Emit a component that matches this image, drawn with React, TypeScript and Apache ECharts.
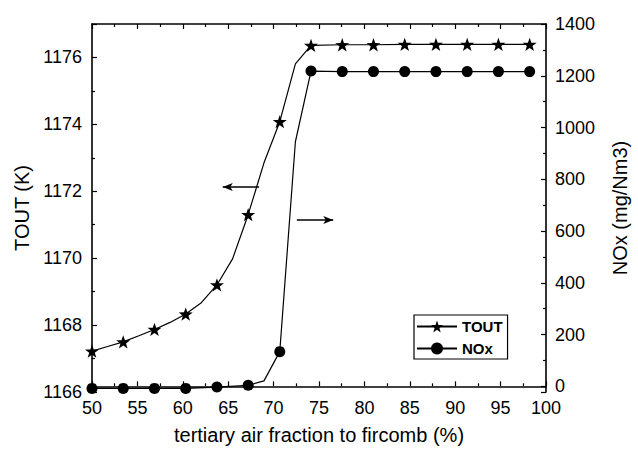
import React, { useEffect, useRef } from "react";
import * as echarts from "echarts";

// TOUT (K) curve: x (%), value, and whether the point carries a marker
const toutX = [50, 51.72, 53.44, 55.16, 56.88, 58.6, 60.32, 62.04, 63.76, 65.48, 67.2, 68.94, 70.68, 72.4, 74.12, 77.56, 81.0, 84.44, 87.88, 91.32, 94.76, 98.2];
const toutY = [1167.22, 1167.36, 1167.5, 1167.68, 1167.87, 1168.08, 1168.33, 1168.67, 1169.2, 1169.98, 1171.3, 1172.85, 1174.08, 1175.81, 1176.36, 1176.38, 1176.38, 1176.39, 1176.39, 1176.39, 1176.39, 1176.39];
const toutMarked = [1, 0, 1, 0, 1, 0, 1, 0, 1, 0, 1, 0, 1, 0, 1, 1, 1, 1, 1, 1, 1, 1];

// NOx (mg/Nm3) curve
const noxX = [50, 53.44, 56.88, 60.32, 63.76, 67.2, 68.94, 70.68, 72.4, 74.12, 77.56, 81.0, 84.44, 87.88, 91.32, 94.76, 98.2];
const noxY = [-8, -8, -8, -8, -3, 4, 21, 134, 945, 1218, 1216, 1216, 1216, 1216, 1216, 1216, 1216];
const noxMarked = [1, 1, 1, 1, 1, 1, 0, 1, 0, 1, 1, 1, 1, 1, 1, 1, 1];

// Annotation arrows (in TOUT axis coordinates): [fromX, toX, y]
const arrowLeft = [68.4, 64.4, 1172.13];
const arrowRight = [72.56, 76.57, 1171.14];

const xMin = 50, xMax = 100, xInterval = 5;
const leftMin = 1166, leftMax = 1177, leftInterval = 2;
const rightMin = -22, rightMax = 1400, rightStep = 200;

const seriesNames = ["TOUT", "NOx"];
const xTitle = "tertiary air fraction to fircomb (%)";
const leftTitle = "TOUT (K)";
const rightTitle = "NOx (mg/Nm3)";

const STAR =
  "path://M0,-10 L2.35,-3.24 L9.51,-3.09 L3.8,1.24 L5.88,8.09 L0,4 L-5.88,8.09 L-3.8,1.24 L-9.51,-3.09 L-2.35,-3.24 Z";

const FONT = "'Liberation Sans', Arial, Helvetica, sans-serif";

export default function App() {
  const ref = useRef<HTMLDivElement>(null);

  useEffect(() => {
    if (!ref.current) return;
    const chart = echarts.init(ref.current, undefined, { renderer: "svg" });

    const toutData = toutX.map((x, i) =>
      toutMarked[i] ? { value: [x, toutY[i]] } : { value: [x, toutY[i]], symbol: "none" }
    );
    const noxData = noxX.map((x, i) =>
      noxMarked[i] ? { value: [x, noxY[i]] } : { value: [x, noxY[i]], symbol: "none" }
    );

    const fmt = (v: number) => String(v);
    const labelStyle = { color: "#000", fontSize: 18, fontFamily: FONT, formatter: fmt };
    const nameStyle = { color: "#000", fontSize: 20, fontFamily: FONT };

    const axisCommon = {
      axisLine: { show: true, lineStyle: { color: "#000", width: 1.6 } },
      axisTick: { show: true, inside: true, length: 5, lineStyle: { color: "#000", width: 1.2 } },
      minorTick: { show: true, splitNumber: 2, length: 3, lineStyle: { color: "#000", width: 1.2 } },
      splitLine: { show: false },
    };

    chart.setOption({
      animation: false,
      backgroundColor: "#fff",
      textStyle: { fontFamily: FONT },
      grid: { left: 92, right: 85, top: 24, bottom: 56, containLabel: false },
      legend: {
        data: seriesNames,
        orient: "vertical",
        left: 414,
        top: 315,
        itemWidth: 40,
        itemHeight: 15,
        itemGap: 7,
        padding: [4, 5, 3, 2],
        borderColor: "#000",
        borderWidth: 1.2,
        borderRadius: 0,
        textStyle: { color: "#000", fontSize: 15, fontWeight: "bold", fontFamily: FONT },
        selectedMode: false,
      },
      xAxis: [
        {
          ...axisCommon,
          type: "value",
          position: "bottom",
          min: xMin,
          max: xMax,
          interval: xInterval,
          name: xTitle,
          nameLocation: "middle",
          nameGap: 33,
          nameTextStyle: nameStyle,
          axisLabel: { ...labelStyle, margin: 7 },
        },
        {
          ...axisCommon,
          type: "value",
          position: "top",
          min: xMin,
          max: xMax,
          interval: xInterval,
          axisLabel: { show: false },
        },
      ],
      yAxis: [
        {
          ...axisCommon,
          type: "value",
          position: "left",
          min: leftMin,
          max: leftMax,
          interval: leftInterval,
          name: leftTitle,
          nameLocation: "middle",
          nameGap: 58,
          nameTextStyle: nameStyle,
          axisLabel: { ...labelStyle, margin: 10, showMaxLabel: false },
        },
        {
          ...axisCommon,
          type: "value",
          position: "right",
          min: rightMin,
          max: rightMax,
          splitNumber: 7,
          minInterval: rightStep,
          maxInterval: rightStep,
          name: rightTitle,
          nameLocation: "middle",
          nameGap: 64,
          nameTextStyle: nameStyle,
          axisLabel: { ...labelStyle, margin: 9, showMinLabel: false },
        },
      ],
      series: [
        {
          name: seriesNames[0],
          type: "line",
          xAxisIndex: 0,
          yAxisIndex: 0,
          data: toutData,
          symbol: STAR,
          symbolSize: 14,
          symbolKeepAspect: true,
          showAllSymbol: true,
          lineStyle: { color: "#000", width: 1.2 },
          itemStyle: { color: "#000", borderWidth: 0 },
          emphasis: { disabled: true },
          z: 3,
          markLine: {
            silent: true,
            symbol: ["none", "arrow"],
            symbolSize: [6, 10],
            label: { show: false },
            lineStyle: { color: "#000", width: 1.5, type: "solid" },
            emphasis: { disabled: true },
            data: [
              [{ coord: [arrowLeft[0], arrowLeft[2]] }, { coord: [arrowLeft[1], arrowLeft[2]] }],
              [{ coord: [arrowRight[0], arrowRight[2]] }, { coord: [arrowRight[1], arrowRight[2]] }],
            ],
          },
        },
        {
          name: seriesNames[1],
          type: "line",
          xAxisIndex: 0,
          yAxisIndex: 1,
          data: noxData,
          symbol: "circle",
          symbolSize: 11,
          showAllSymbol: true,
          lineStyle: { color: "#000", width: 1.2 },
          itemStyle: { color: "#000", borderWidth: 0 },
          emphasis: { disabled: true },
          z: 3,
        },
      ],
    });

    return () => chart.dispose();
  }, []);

  return (
    <div
      ref={ref}
      style={{ position: "fixed", left: 0, top: 0, width: 638, height: 450, background: "#fff" }}
    />
  );
}
